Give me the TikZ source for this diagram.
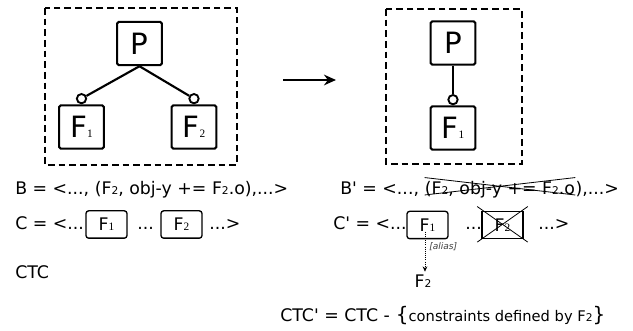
\documentclass[tikz,border=0pt]{standalone}
\usepackage{fontspec}
\newfontfamily\tf{DejaVu Sans}
\newfontfamily\serfnt{Liberation Serif}
\usetikzlibrary{arrows.meta}
\newcommand{\sbt}[1]{{\fontsize{8}{8}\selectfont #1}}
\newcommand{\sbs}[1]{{\serfnt\fontsize{8.5}{9}\selectfont #1}}
\begin{document}
\begin{tikzpicture}[x=0.75pt,y=-0.75pt,
  bigbox/.style={draw, line width=1.6pt, rounded corners=1.2pt, minimum width=33.5pt, minimum height=32.5pt, inner sep=0pt, font=\tf\fontsize{22}{24}\selectfont},
  smallbox/.style={draw, line width=1pt, rounded corners=2pt, minimum width=30.75pt, minimum height=20.5pt, inner sep=0pt, font=\tf\fontsize{13}{15}\selectfont},
  xbox/.style={draw, line width=1.2pt, minimum width=30.75pt, minimum height=20.5pt, inner sep=0pt, font=\tf\fontsize{13}{15}\selectfont},
  txt/.style={inner sep=0pt, anchor=base west, font=\tf\fontsize{13}{15}\selectfont},
  dashbox/.style={draw, line width=1.6pt, dash pattern=on 5pt off 3pt},
  conn/.style={line width=1.6pt},
  knob/.style={draw, circle, line width=1.4pt, minimum size=7pt, inner sep=0pt, fill=white},
  xline/.style={line width=0.6pt}
]
\useasboundingbox (0,0) rectangle (633,331);

% left tree
\draw[dashbox] (45,8) rectangle (237,165);
\node[bigbox] (p) at (139.5,43.5) {P};
\node[bigbox] (f1) at (81.5,127) {F\sbs{1}};
\node[bigbox] (f2) at (194,127) {F\sbs{2}};
\node[knob, anchor=south] (k1) at (f1.north) {};
\node[knob, anchor=south] (k2) at (f2.north) {};
\draw[conn] (p.south) -- (k1);
\draw[conn] (p.south) -- (k2);

% arrow
\coordinate (a1) at (283,80);
\coordinate (a2) at (336,80);
\draw[conn, -{Stealth[length=9pt,width=8pt]}] (a1) -- (a2);

% right tree
\draw[dashbox] (386,9) rectangle (522,164);
\node[bigbox] (pp) at (453,43) {P};
\node[bigbox] (pf1) at (453,128) {F\sbs{1}};
\node[knob, anchor=south] (k3) at (pf1.north) {};
\draw[conn] (pp.south) -- (k3);

% left text
\node[txt] (bline) at (15,195) {B = <..., (F\sbt{2}, obj-y += F\sbt{2}.o),...>};
\node[txt] (cline) at (15,230) {C = <...};
\node[smallbox] (c1) at (106.5,224.5) {F\sbs{1}};
\node[txt] (cdots) at (137,230) {...};
\node[smallbox] (c2) at (181.5,224.5) {F\sbs{2}};
\node[txt] (cend) at (209,230) {...>};
\node[txt] (ctc) at (15,279) {CTC};

% right text
\node[txt] (bp1) at (340,195) {B' = <...,};
\node[txt] (bp2) at ([xshift=4pt]bp1.base east) {(F\sbt{2}, obj-y += F\sbt{2}.o};
\node[txt] (bp3) at (bp2.base east) {),...>};
\draw[xline] ([yshift=3pt]bp2.north west) -- (bp2.base east);
\draw[xline] (bp2.base west) -- ([yshift=3pt]bp2.north east);

\node[txt, anchor=base east] (cp) at (407,230) {C' = <...};
\node[smallbox] (cf1) at (427.5,225) {F\sbs{1}};
\node[txt] (cpd) at (465,230) {...};
\node[xbox] (cf2) at (502.5,225) {F\sbs{2}};
\draw[xline] ([xshift=-3pt,yshift=3pt]cf2.north west) -- ([xshift=3pt,yshift=-2pt]cf2.south east);
\draw[xline] ([xshift=-3pt,yshift=-2pt]cf2.south west) -- ([xshift=3pt,yshift=3pt]cf2.north east);
\node[txt] (cpe) at (538,230) {...>};

\node[inner sep=2pt, font=\tf\fontsize{13}{15}\selectfont] (f2a) at (423,281) {F\sbt{2}};
\draw[densely dotted, line width=0.6pt, -{Stealth[length=4pt,width=3.5pt]}] ([xshift=-1.9pt,yshift=-5pt]cf1.center) -- ([xshift=-1.9pt]cf1.center |- f2a.north);
\node[inner sep=0pt, anchor=west, text=black!75, font=\tf\itshape\fontsize{6.8}{8}\selectfont] (al) at (429,247) {[alias]};

\node[txt] (ctcp) at (280,322) {CTC' = CTC -\ \ };
\node[txt] (cons) at (ctcp.base east) {{\fontsize{15}{16}\selectfont\{}{\fontsize{11}{12}\selectfont constraints defined by F\sbt{2}}{\fontsize{15}{16}\selectfont\}}};
\end{tikzpicture}
\end{document}
